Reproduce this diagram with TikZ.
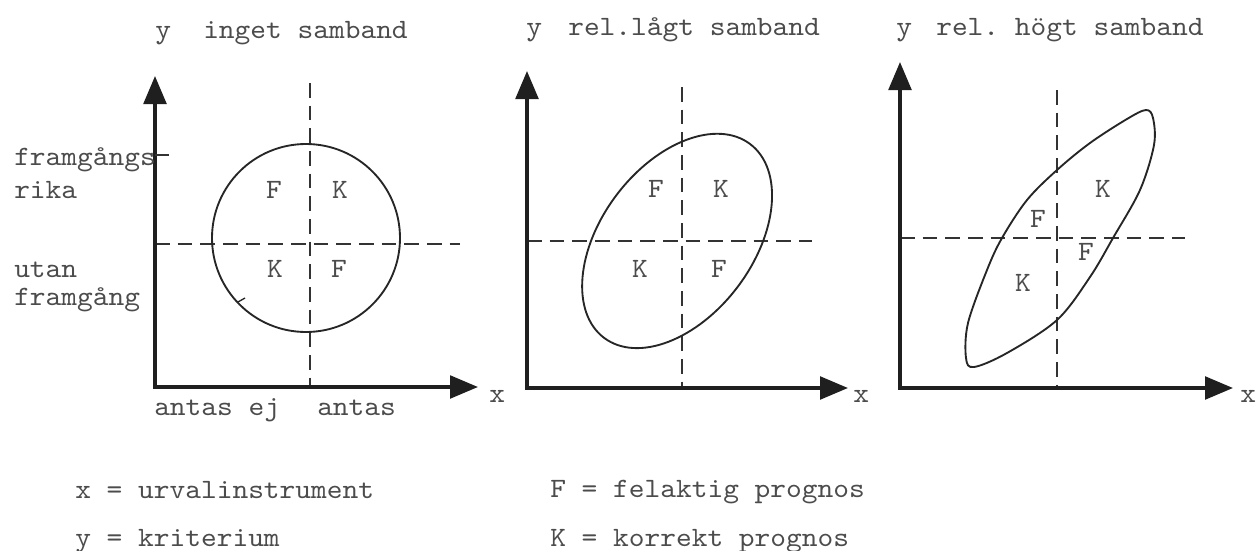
\documentclass[tikz,border=0pt]{standalone}
\usepackage{fontspec}
\setmonofont{lmmono10-regular.otf}[FakeStretch=1.07]
\usetikzlibrary{arrows.meta}
\begin{document}
\begin{tikzpicture}[x=0.75pt,y=-0.75pt,
  axis/.style={line width=2.6pt, draw=black!88, line join=miter,
    {Triangle[length=21pt,width=17pt]}-{Triangle[length=21pt,width=17pt]}},
  guide/.style={line width=1.1pt, draw=black!80, dash pattern=on 11pt off 6pt},
  curve/.style={line width=1.4pt, draw=black!85},
  txt/.style={font=\ttfamily\fontsize{21}{25}\selectfont, text=black!70, inner sep=0pt},
  lw/.style={txt, anchor=base west},
  fk/.style={txt, anchor=center}]
\useasboundingbox (0,0) rectangle (1257,550);

% ---------- panel 1 ----------
\coordinate (o1) at (155,387);
\coordinate (ya1) at (155,76);
\coordinate (xa1) at (478,387);
\coordinate (v1t) at (310,83);
\coordinate (v1b) at (310,387);
\coordinate (h1l) at (155,244);
\coordinate (h1r) at (460,244);
\coordinate (t1a) at (155,155);
\coordinate (t1b) at (169,155);
\draw[guide] (v1t) -- (v1b);
\draw[guide] (h1l) -- (h1r);
\draw[curve] (306,238) circle[radius=94];
\coordinate (m1a) at (238,302);
\coordinate (m1b) at (245,298);
\draw[curve,line width=1pt] (m1a) -- (m1b);
\draw[axis] (ya1) -- (o1) -- (xa1);
\draw[line width=1.1pt, draw=black!80] (t1a) -- (t1b);

\node[lw] (ty1) at (155,38) {y};
\node[lw] (tt1) at (203,38) {inget samband};
\node[lw] (l1) at (14,165) {framgångs};
\node[lw] (l2) at (14,198) {rika};
\node[lw] (l3) at (14,277) {utan};
\node[lw] (l4) at (14,305) {framgång};
\node[lw] (b1) at (154,415) {antas ej};
\node[lw] (b2) at (317,415) {antas};
\node[lw] (xl1) at (489,402) {x};
\node[fk] (f11) at (274,190) {F};
\node[fk] (k11) at (340,190) {K};
\node[fk] (k12) at (275,269) {K};
\node[fk] (f12) at (339,269) {F};

% ---------- panel 2 ----------
\coordinate (o2) at (527,388);
\coordinate (ya2) at (527,71);
\coordinate (xa2) at (848,388);
\coordinate (v2t) at (682,87);
\coordinate (v2b) at (682,388);
\coordinate (h2l) at (527,241);
\coordinate (h2r) at (812,241);
\coordinate (c2) at (677,241);
\draw[guide] (v2t) -- (v2b);
\draw[guide] (h2l) -- (h2r);
\draw[curve, rotate around={53:(c2)}] (c2) ellipse[x radius=91pt, y radius=57pt];
\draw[axis] (ya2) -- (o2) -- (xa2);

\node[lw] (ty2) at (526,35) {y};
\node[lw] (tt2) at (568,35) {rel.lågt samband};
\node[lw] (xl2) at (853,402) {x};
\node[fk] (f21) at (656,189) {F};
\node[fk] (k21) at (721,189) {K};
\node[fk] (k22) at (640,269) {K};
\node[fk] (f22) at (719,269) {F};

% ---------- panel 3 ----------
\coordinate (o3) at (900,388);
\coordinate (ya3) at (900,62);
\coordinate (xa3) at (1233,388);
\coordinate (v3t) at (1057,90);
\coordinate (v3b) at (1057,388);
\coordinate (h3l) at (900,238);
\coordinate (h3r) at (1185,238);
\draw[guide] (v3t) -- (v3b);
\draw[guide] (h3l) -- (h3r);
\draw[curve] plot[smooth cycle, tension=0.55] coordinates {
  (1146,110) (1153,118) (1154,145) (1140,190) (1113,238) (1090,277)
  (1057,320) (1007,353) (974,367) (966,358) (968,323) (987,270)
  (1002,238) (1027,200) (1057,170) (1090,143) (1127,119)};
\draw[axis] (ya3) -- (o3) -- (xa3);

\node[lw] (ty3) at (896,35) {y};
\node[lw] (tt3) at (936,35) {rel. högt samband};
\node[lw] (xl3) at (1240,402) {x};
\node[fk] (k31) at (1103,189) {K};
\node[fk] (f31) at (1038,219) {F};
\node[fk] (f32) at (1086,252) {F};
\node[fk] (k32) at (1023,283) {K};

% ---------- legend ----------
\node[lw] (lg1) at (75,498) {x = urvalinstrument};
\node[lw] (lg2) at (75,546) {y = kriterium};
\node[lw] (lg3) at (550,497) {F = felaktig prognos};
\node[lw] (lg4) at (550,546) {K = korrekt prognos};
\end{tikzpicture}
\end{document}
